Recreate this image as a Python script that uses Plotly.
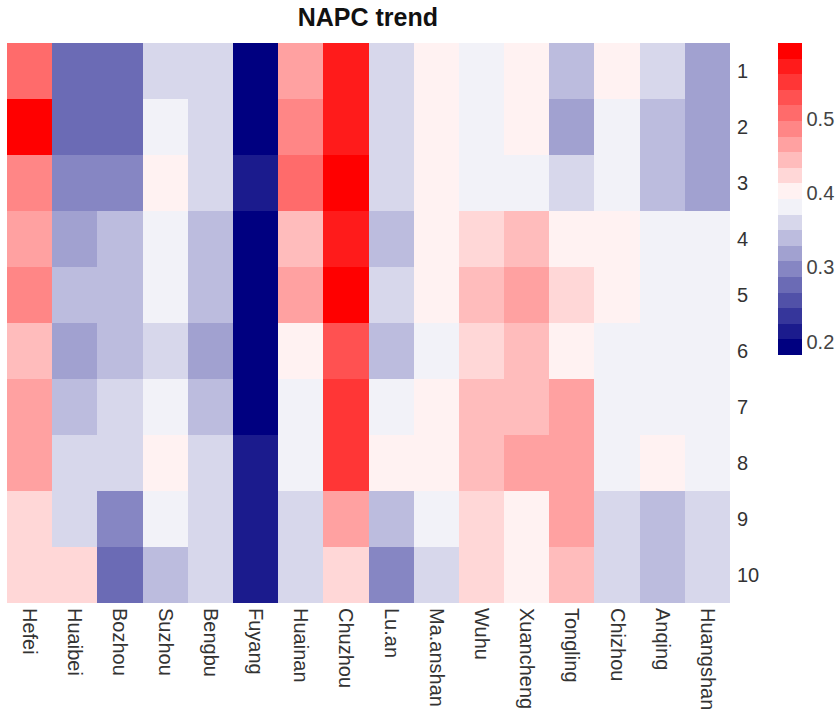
import plotly.graph_objects as go

cities = ["Hefei", "Huaibei", "Bozhou", "Suzhou", "Bengbu", "Fuyang", "Huainan", "Chuzhou",
          "Lu.an", "Ma.anshan", "Wuhu", "Xuancheng", "Tongling", "Chizhou", "Anqing", "Huangshan"]
rows = [1, 2, 3, 4, 5, 6, 7, 8, 9, 10]

# values (NAPC trend)
r1 = [0.506, 0.276, 0.276, 0.360, 0.360, 0.192, 0.465, 0.570, 0.360, 0.402, 0.381, 0.402, 0.339, 0.402, 0.360, 0.318]
r2 = [0.591, 0.276, 0.276, 0.381, 0.360, 0.192, 0.486, 0.570, 0.360, 0.402, 0.381, 0.402, 0.318, 0.381, 0.339, 0.318]
r3 = [0.486, 0.297, 0.297, 0.402, 0.360, 0.213, 0.506, 0.591, 0.360, 0.402, 0.381, 0.381, 0.360, 0.381, 0.339, 0.318]
r4 = [0.465, 0.318, 0.339, 0.381, 0.339, 0.192, 0.444, 0.570, 0.339, 0.402, 0.423, 0.444, 0.402, 0.402, 0.381, 0.381]
r5 = [0.486, 0.339, 0.339, 0.381, 0.339, 0.192, 0.465, 0.591, 0.360, 0.402, 0.444, 0.465, 0.423, 0.402, 0.381, 0.381]
r6 = [0.444, 0.318, 0.339, 0.360, 0.318, 0.192, 0.402, 0.528, 0.339, 0.381, 0.423, 0.444, 0.402, 0.381, 0.381, 0.381]
r7 = [0.465, 0.339, 0.360, 0.381, 0.339, 0.192, 0.381, 0.549, 0.381, 0.402, 0.444, 0.444, 0.465, 0.381, 0.381, 0.381]
r8 = [0.465, 0.360, 0.360, 0.402, 0.360, 0.213, 0.381, 0.549, 0.402, 0.402, 0.444, 0.465, 0.465, 0.381, 0.402, 0.381]
r9 = [0.423, 0.360, 0.297, 0.381, 0.360, 0.213, 0.360, 0.465, 0.339, 0.381, 0.423, 0.402, 0.465, 0.360, 0.339, 0.360]
r10 = [0.423, 0.423, 0.276, 0.339, 0.360, 0.213, 0.360, 0.423, 0.297, 0.360, 0.423, 0.402, 0.444, 0.360, 0.339, 0.360]
z = [r1, r2, r3, r4, r5, r6, r7, r8, r9, r10]

zmin, zmax, nbins = 0.182, 0.602, 20

# stepped navy-white-red palette
def pal(t):
    if t <= 0.5:
        f = 2 * t
        c = (0 + 255 * f, 0 + 255 * f, 128 + 127 * f)
    else:
        f = 2 * t - 1
        c = (255, 255 - 255 * f, 255 - 255 * f)
    return "rgb(%d,%d,%d)" % tuple(round(v) for v in c)

colorscale = []
for i in range(nbins):
    col = pal(i / (nbins - 1))
    colorscale.append([i / nbins, col])
    colorscale.append([(i + 1) / nbins, col])

FONT = "Liberation Sans, Arial"

fig = go.Figure(go.Heatmap(
    z=z, x=cities, y=rows,
    zmin=zmin, zmax=zmax,
    colorscale=colorscale,
    xgap=0, ygap=0,
    colorbar=dict(
        x=1.0664, xanchor="left", xref="paper",
        y=1.0, yanchor="top", len=0.557, lenmode="fraction", ypad=0, xpad=0,
        thickness=24, outlinewidth=0, ticks="", ticklabelposition="outside",
        tickvals=[0.2, 0.3, 0.4, 0.5], ticktext=["0.2", "0.3", "0.4", "0.5"],
        tickfont=dict(family=FONT, size=20, color="#444"),
    ),
))

fig.update_layout(
    width=840, height=722,
    margin=dict(l=7, r=110, t=43, b=119, autoexpand=False),
    paper_bgcolor="white", plot_bgcolor="white",
    title=dict(text="<b>NAPC trend</b>", x=0.438, xanchor="center",
               y=0.976, yanchor="middle",
               font=dict(family=FONT, size=25, color="#111")),
    xaxis=dict(type="category", tickangle=90, showgrid=False, zeroline=False, ticks="",
               automargin=False,
               tickfont=dict(family=FONT, size=20, color="#333"),
               ticklabelstandoff=4),
    yaxis=dict(side="right", autorange="reversed", tickvals=rows, ticktext=[str(r) for r in rows],
               showgrid=False, zeroline=False, ticks="", automargin=False,
               tickfont=dict(family=FONT, size=20, color="#333"),
               ticklabelstandoff=6),
)

fig.write_html("out.html", config={"displayModeBar": False},
               post_script="document.body.style.margin='0';document.body.style.padding='0';")
